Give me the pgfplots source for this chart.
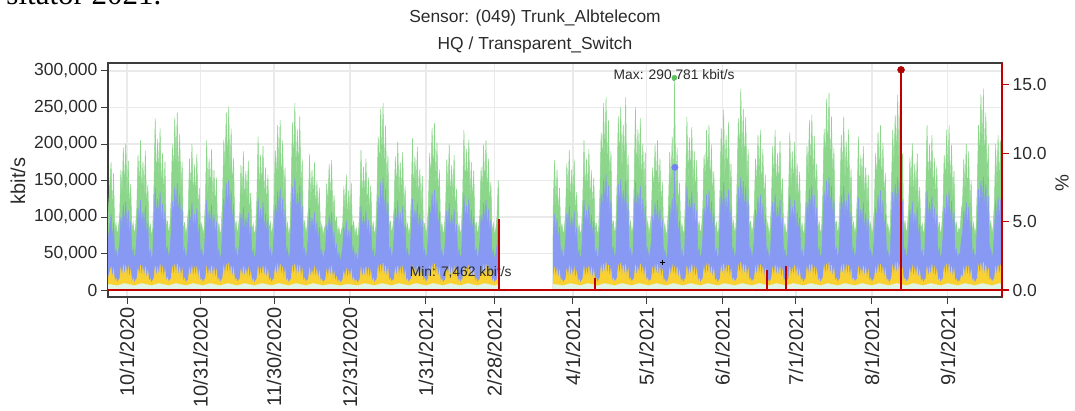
\documentclass[border=0pt]{standalone}
\usepackage{fontspec}
\setmainfont{Liberation Sans}
\newfontfamily\seriffont{Liberation Serif}
\usepackage{pgfplots}
\usepackage{pgfplotstable}
\pgfplotsset{compat=1.18}
\definecolor{gr}{HTML}{8CD68C}
\definecolor{grd}{HTML}{5DBF5D}
\definecolor{bl}{HTML}{8799F3}
\definecolor{ye}{HTML}{F9D232}
\definecolor{mi}{HTML}{E1F5E4}
\definecolor{rd}{HTML}{C00000}
\definecolor{rdd}{HTML}{B00000}
\definecolor{ax}{HTML}{3C3C3C}
\definecolor{gd}{HTML}{EAEAEA}
\definecolor{tx}{HTML}{2B2B2B}

\pgfplotstableread[row sep=\\]{
x g b y\\
-7.8 100 66 15\\ -6.5 175 104 31\\ -6 105 68 15\\ -5.5 160 92 28\\ -5 78 45 10\\ -4.5 92 56 16\\ -4 74 42 9\\ -3.5 86 52 14\\
-3 101 64 14\\ -2.5 165 100 30\\ -2 129 82 16\\ -1.5 195 117 33\\ -1 135 88 17\\ -0.5 201 121 34\\ 0 121 80 16\\ 0.5 177 109 31\\ 1 109 70 14\\ 1.5 145 94 27\\ 2 79 46 10\\ 2.5 93 57 16\\ 3 75 41 9\\ 3.5 87 51 14\\
4 113 74 15\\ 4.5 185 113 29\\ 5 135 88 17\\ 5.5 205 123 34\\ 6 123 82 16\\ 6.5 176 107 31\\ 7 127 84 16\\ 7.5 191 115 32\\ 8 107 70 13\\ 8.5 144 92 26\\ 9 77 44 10\\ 9.5 90 55 15\\ 10 73 40 9\\ 10.5 84 50 13\\
11 141 94 16\\ 11.5 235 141 33\\ 12 146 99 15\\ 12.5 207 125 30\\ 13 153 101 18\\ 13.5 221 134 35\\ 14 132 87 15\\ 14.5 188 118 31\\ 15 125 82 14\\ 15.5 176 108 28\\ 16 80 47 11\\ 16.5 95 58 17\\ 17 76 43 10\\ 17.5 88 53 14\\
18 122 78 15\\ 18.5 199 122 31\\ 19 156 100 17\\ 19.5 236 141 35\\ 20 163 107 18\\ 20.5 243 146 36\\ 21 146 97 16\\ 21.5 214 131 32\\ 22 131 85 14\\ 22.5 175 114 28\\ 23 78 46 10\\ 23.5 93 57 16\\ 24 74 41 9\\ 24.5 86 51 13\\
25 110 72 14\\ 25.5 180 110 29\\ 26 132 86 16\\ 26.5 200 120 32\\ 27 120 80 15\\ 27.5 172 104 30\\ 28 124 82 16\\ 28.5 186 112 31\\ 29 104 68 13\\ 29.5 140 90 26\\ 30 79 45 10\\ 30.5 91 56 15\\ 31 75 42 9\\ 31.5 85 50 14\\
32 123 82 15\\ 32.5 205 123 31\\ 33 127 86 15\\ 33.5 180 109 29\\ 34 133 88 17\\ 34.5 193 117 33\\ 35 115 76 15\\ 35.5 164 103 30\\ 36 109 72 13\\ 36.5 154 94 27\\ 37 77 44 10\\ 37.5 92 56 16\\ 38 73 40 9\\ 38.5 85 51 14\\
39 126 80 15\\ 39.5 206 126 32\\ 40 161 103 17\\ 40.5 243 146 35\\ 41 168 110 18\\ 41.5 251 151 37\\ 42 151 100 16\\ 42.5 221 136 33\\ 43 136 88 14\\ 43.5 181 118 29\\ 44 80 47 11\\ 44.5 95 58 16\\ 45 76 42 10\\ 45.5 87 52 14\\
46 105 68 14\\ 46.5 171 105 28\\ 47 125 82 16\\ 47.5 190 114 31\\ 48 114 76 15\\ 48.5 163 99 29\\ 49 118 78 15\\ 49.5 177 106 30\\ 50 99 65 13\\ 50.5 133 86 25\\ 51 78 45 10\\ 51.5 90 55 15\\ 52 74 41 9\\ 52.5 84 50 13\\
53 126 84 15\\ 53.5 210 126 31\\ 54 130 88 15\\ 54.5 185 111 29\\ 55 137 90 17\\ 55.5 197 120 33\\ 56 118 78 15\\ 56.5 168 105 30\\ 57 111 74 13\\ 57.5 158 97 27\\ 58 79 46 10\\ 58.5 93 57 16\\ 59 75 42 9\\ 59.5 86 51 14\\
60 117 75 15\\ 60.5 191 117 31\\ 61 149 96 17\\ 61.5 226 135 34\\ 62 156 103 18\\ 62.5 233 140 36\\ 63 140 93 16\\ 63.5 205 126 32\\ 64 126 82 14\\ 64.5 168 110 28\\ 65 78 45 10\\ 65.5 92 56 15\\ 66 74 41 9\\ 66.5 85 50 13\\
67 141 92 15\\ 67.5 230 141 32\\ 68 169 110 18\\ 68.5 256 154 36\\ 69 154 102 16\\ 69.5 220 133 33\\ 70 159 105 17\\ 70.5 238 143 34\\ 71 133 87 14\\ 71.5 179 115 28\\ 72 80 47 11\\ 72.5 94 57 16\\ 73 76 42 10\\ 73.5 87 52 14\\
74 112 74 14\\ 74.5 186 112 29\\ 75 115 78 14\\ 75.5 164 99 27\\ 76 121 80 16\\ 76.5 175 106 31\\ 77 104 69 14\\ 77.5 149 93 28\\ 78 99 65 13\\ 78.5 140 86 25\\ 79 77 44 10\\ 79.5 90 55 15\\ 80 73 40 9\\ 80.5 84 50 13\\
81 89 57 13\\ 81.5 146 89 27\\ 82 114 73 15\\ 82.5 173 103 30\\ 83 119 78 16\\ 83.5 178 107 31\\ 84 96 60 13\\ 84.5 130 80 24\\ 85 85 50 11\\ 85.5 100 62 18\\ 86 73 40 9\\ 86.5 86 52 14\\ 87 71 38 9\\ 87.5 82 48 12\\
88 87 57 13\\ 88.5 142 87 25\\ 89 104 68 14\\ 89.5 158 95 28\\ 90 95 63 13\\ 90.5 136 82 26\\ 91 98 65 14\\ 91.5 147 88 27\\ 92 78 46 10\\ 92.5 95 58 17\\ 93 72 40 9\\ 93.5 85 51 14\\ 94 70 38 9\\ 94.5 80 47 12\\
95 115 77 14\\ 95.5 192 115 30\\ 96 119 81 14\\ 96.5 169 102 28\\ 97 125 83 16\\ 97.5 180 109 32\\ 98 108 71 14\\ 98.5 154 96 29\\ 99 102 67 13\\ 99.5 144 88 26\\ 100 78 45 10\\ 100.5 92 56 16\\ 101 74 41 9\\ 101.5 85 51 13\\
102 128 82 15\\ 102.5 210 128 32\\ 103 164 105 17\\ 103.5 248 148 35\\ 104 172 113 18\\ 104.5 256 154 37\\ 105 154 102 16\\ 105.5 225 138 33\\ 106 138 90 14\\ 106.5 184 120 29\\ 107 80 47 11\\ 107.5 95 58 16\\ 108 76 42 10\\ 108.5 87 52 14\\
109 112 73 14\\ 109.5 183 112 29\\ 110 134 87 16\\ 110.5 203 122 33\\ 111 122 81 15\\ 111.5 175 106 30\\ 112 126 83 16\\ 112.5 189 114 31\\ 113 106 69 13\\ 113.5 142 91 26\\ 114 79 45 10\\ 114.5 91 56 15\\ 115 75 42 9\\ 115.5 85 50 14\\
116 125 83 15\\ 116.5 208 125 31\\ 117 129 87 15\\ 117.5 183 110 29\\ 118 135 89 17\\ 118.5 196 119 33\\ 119 116 77 15\\ 119.5 166 104 30\\ 120 110 73 13\\ 120.5 156 96 27\\ 121 77 44 10\\ 121.5 92 56 16\\ 122 73 40 9\\ 122.5 85 51 14\\
123 115 73 15\\ 123.5 188 115 31\\ 124 147 94 17\\ 124.5 222 133 34\\ 125 153 101 18\\ 125.5 229 137 36\\ 126 137 92 16\\ 126.5 202 124 32\\ 127 124 80 14\\ 127.5 165 108 28\\ 128 78 45 10\\ 128.5 92 56 15\\ 129 74 41 9\\ 129.5 85 50 13\\
130 109 72 14\\ 130.5 179 109 29\\ 131 131 86 16\\ 131.5 199 119 32\\ 132 119 80 15\\ 132.5 171 103 30\\ 133 123 82 16\\ 133.5 185 111 31\\ 134 103 68 13\\ 134.5 139 90 26\\ 135 79 45 10\\ 135.5 91 56 15\\ 136 75 42 9\\ 136.5 85 50 14\\
137 131 88 15\\ 137.5 219 131 32\\ 138 136 92 15\\ 138.5 193 116 29\\ 139 142 94 17\\ 139.5 206 125 34\\ 140 123 81 15\\ 140.5 175 110 30\\ 141 116 77 13\\ 141.5 164 101 27\\ 142 78 45 10\\ 142.5 93 57 16\\ 143 74 41 9\\ 143.5 86 51 14\\
144 103 66 14\\ 144.5 168 103 30\\ 145 131 84 16\\ 145.5 199 119 33\\ 146 137 90 17\\ 146.5 205 123 35\\ 147 123 82 16\\ 147.5 180 111 31\\ 148 111 72 14\\ 148.5 148 96 27\\ 149 77 44 10\\ 149.5 91 55 15\\ 150 73 40 9\\ 150.5 84 50 13\\
151 100 62 14\\ 151.5 150 95 28\\ 151.8 120 80 20\\
}\segA

\pgfplotstableread[row sep=\\]{
x g b y\\
173.9 110 72 15\\ 174.5 178 104 30\\ 175 112 74 15\\ 175.5 165 98 29\\ 176 100 66 13\\ 176.5 140 86 26\\ 177 78 45 10\\ 177.5 91 56 15\\ 178 74 41 9\\ 178.5 85 50 13\\
179 106 69 14\\ 179.5 173 106 28\\ 180 127 83 16\\ 180.5 192 115 32\\ 181 115 77 15\\ 181.5 165 100 29\\ 182 119 79 15\\ 182.5 179 108 30\\ 183 100 65 13\\ 183.5 134 86 25\\ 184 78 45 10\\ 184.5 90 55 15\\ 185 74 41 9\\ 185.5 84 50 13\\
186 123 82 15\\ 186.5 205 123 31\\ 187 127 86 15\\ 187.5 180 109 29\\ 188 133 88 17\\ 188.5 193 117 33\\ 189 115 76 15\\ 189.5 164 103 30\\ 190 109 72 13\\ 190.5 154 94 27\\ 191 77 44 10\\ 191.5 92 56 16\\ 192 73 40 9\\ 192.5 85 51 14\\
193 132 84 16\\ 193.5 216 132 33\\ 194 169 108 18\\ 194.5 256 153 36\\ 195 177 116 19\\ 195.5 264 158 38\\ 196 158 106 17\\ 196.5 232 143 34\\ 197 143 92 14\\ 197.5 190 124 29\\ 198 80 47 11\\ 198.5 95 58 16\\ 199 76 42 10\\ 199.5 87 52 14\\
200 145 95 16\\ 200.5 238 145 33\\ 201 174 114 18\\ 201.5 250 152 37\\ 202 158 106 17\\ 202.5 227 137 34\\ 203 164 108 17\\ 203.5 264 150 35\\ 204 137 90 14\\ 204.5 185 119 29\\ 205 80 47 11\\ 205.5 94 57 16\\ 206 76 42 10\\ 206.5 87 52 14\\
207 150 100 16\\ 207.5 250 148 34\\ 208 155 105 16\\ 208.5 220 133 31\\ 209 163 108 18\\ 209.5 235 143 36\\ 210 140 93 16\\ 210.5 200 125 32\\ 211 133 88 14\\ 211.5 188 115 29\\ 212 80 47 11\\ 212.5 94 57 16\\ 213 76 42 10\\ 213.5 87 52 14\\
214 103 66 14\\ 214.5 168 103 30\\ 215 131 84 16\\ 215.5 199 119 33\\ 216 137 90 17\\ 216.5 205 123 35\\ 217 123 82 16\\ 217.5 180 111 31\\ 218 111 72 14\\ 218.5 148 96 27\\ 219 77 44 10\\ 219.5 91 55 15\\ 220 73 40 9\\ 220.5 84 50 13\\
221 116 76 15\\ 221.5 189 116 29\\ 222 139 90 17\\ 222.5 210 126 33\\ 223 126 84 16\\ 223.4 290.781 168 31\\ 224 130 86 16\\ 224.5 195 118 32\\ 225 109 71 13\\ 225.5 147 95 26\\ 226 78 45 10\\ 226.5 91 56 15\\ 227 74 41 9\\ 227.5 85 50 14\\
228 142 95 16\\ 228.5 237 142 33\\ 229 147 100 15\\ 229.5 209 126 30\\ 230 154 102 18\\ 230.5 223 135 35\\ 231 133 88 15\\ 231.5 190 119 31\\ 232 126 83 14\\ 232.5 178 109 28\\ 233 79 46 10\\ 233.5 93 57 16\\ 234 75 42 9\\ 234.5 86 51 14\\
235 113 72 15\\ 235.5 185 113 31\\ 236 145 93 17\\ 236.5 219 131 34\\ 237 151 99 18\\ 237.5 226 136 36\\ 238 136 90 16\\ 238.5 199 122 32\\ 239 122 79 14\\ 239.5 163 106 28\\ 240 78 45 10\\ 240.5 92 56 15\\ 241 74 41 9\\ 241.5 85 50 13\\
242 136 89 15\\ 242.5 222 136 32\\ 243 163 106 18\\ 243.5 247 148 36\\ 244 148 99 16\\ 244.5 212 128 33\\ 245 153 101 17\\ 245.5 230 138 34\\ 246 128 84 14\\ 246.5 173 111 28\\ 247 80 47 11\\ 247.5 94 57 16\\ 248 76 42 10\\ 248.5 87 52 14\\
249 152 99 16\\ 249.5 235 141 33\\ 250 182 112 19\\ 250.5 276 155 38\\ 251 171 110 17\\ 251.5 248 149 35\\ 252 166 105 17\\ 252.5 237 142 34\\ 253 144 94 14\\ 253.5 193 124 29\\ 254 80 47 11\\ 254.5 95 58 16\\ 255 76 42 10\\ 255.5 87 52 14\\
256 110 70 15\\ 256.5 180 110 31\\ 257 140 90 17\\ 257.5 212 127 34\\ 258 147 96 18\\ 258.5 219 131 35\\ 259 131 88 16\\ 259.5 193 118 32\\ 260 118 77 14\\ 260.5 158 103 28\\ 261 78 45 10\\ 261.5 92 56 15\\ 262 74 41 9\\ 262.5 85 50 13\\
263 120 79 15\\ 263.5 197 120 30\\ 264 145 94 17\\ 264.5 219 131 34\\ 265 131 88 16\\ 265.5 188 114 31\\ 266 136 90 16\\ 266.5 204 123 32\\ 267 114 74 13\\ 267.5 153 99 27\\ 268 78 45 10\\ 268.5 91 56 15\\ 269 74 41 9\\ 269.5 85 50 14\\
270 130 86 15\\ 270.5 216 130 32\\ 271 134 91 15\\ 271.5 190 114 29\\ 272 140 93 17\\ 272.5 203 123 34\\ 273 121 80 15\\ 273.5 173 108 30\\ 274 114 76 13\\ 274.5 162 99 27\\ 275 78 45 10\\ 275.5 92 56 16\\ 276 74 41 9\\ 276.5 85 51 14\\
277 120 77 15\\ 277.5 197 120 31\\ 278 154 98 17\\ 278.5 233 139 35\\ 279 161 106 18\\ 279.5 240 144 36\\ 280 144 96 16\\ 280.5 211 130 32\\ 281 130 84 14\\ 281.5 173 113 28\\ 282 79 46 10\\ 282.5 93 57 16\\ 283 75 42 9\\ 283.5 86 51 14\\
284 135 86 16\\ 284.5 221 135 33\\ 285 173 108 18\\ 285.5 262 150 36\\ 286 181 112 19\\ 286.5 270 155 38\\ 287 162 106 17\\ 287.5 238 142 34\\ 288 146 95 14\\ 288.5 194 124 29\\ 289 80 47 11\\ 289.5 95 58 16\\ 290 76 42 10\\ 290.5 87 52 14\\
291 130 85 15\\ 291.5 213 130 32\\ 292 156 102 18\\ 292.5 237 142 35\\ 293 142 95 16\\ 293.5 204 123 33\\ 294 147 97 17\\ 294.5 220 133 34\\ 295 123 81 14\\ 295.5 166 107 28\\ 296 80 47 11\\ 296.5 93 57 16\\ 297 76 42 10\\ 297.5 86 52 14\\
298 126 84 15\\ 298.5 210 126 31\\ 299 130 88 15\\ 299.5 185 111 29\\ 300 137 90 17\\ 300.5 197 120 33\\ 301 118 78 15\\ 301.5 168 105 30\\ 302 111 74 13\\ 302.5 158 97 27\\ 303 78 45 10\\ 303.5 92 56 16\\ 304 74 41 9\\ 304.5 85 51 14\\
305 113 72 15\\ 305.5 188 114 30\\ 306 145 93 17\\ 306.5 216 130 34\\ 307 151 99 18\\ 307.5 226 136 35\\ 308 136 90 16\\ 308.5 202 123 32\\ 309 122 79 14\\ 309.5 160 104 28\\ 310 79 46 10\\ 310.5 91 55 15\\ 311 75 41 9\\ 311.5 86 50 13\\
312 147 95 16\\ 312.5 219 134 33\\ 313 166 106 18\\ 313.5 240 145 35\\ 314 179 112 19\\ 314.5 267 155 38\\ 315 174 110 18\\ 315.5 259 150 36\\ 316 144 92 14\\ 316.5 187 122 29\\ 317 80 47 11\\ 317.5 95 58 16\\ 318 76 42 10\\ 318.5 87 52 14\\
319 111 72 14\\ 319.5 181 111 29\\ 320 133 86 16\\ 320.5 201 121 32\\ 321 121 80 15\\ 321.5 173 105 30\\ 322 125 82 16\\ 322.5 187 113 31\\ 323 105 68 13\\ 323.5 141 90 26\\ 324 79 45 10\\ 324.5 91 56 15\\ 325 75 42 9\\ 325.5 85 50 14\\
326 136 90 15\\ 326.5 226 136 32\\ 327 140 95 15\\ 327.5 199 120 30\\ 328 147 97 17\\ 328.5 212 129 35\\ 329 127 84 15\\ 329.5 181 113 31\\ 330 120 79 14\\ 330.5 170 104 28\\ 331 78 45 10\\ 331.5 93 57 16\\ 332 74 41 9\\ 332.5 86 51 14\\
333 113 72 15\\ 333.5 185 113 31\\ 334 145 93 17\\ 334.5 219 131 34\\ 335 151 99 18\\ 335.5 226 136 36\\ 336 136 90 16\\ 336.5 199 122 32\\ 337 122 79 14\\ 337.5 163 106 28\\ 338 78 45 10\\ 338.5 92 56 15\\ 339 74 41 9\\ 339.5 85 50 13\\
340 80 48 11\\ 340.5 110 70 20\\ 341 120 78 15\\ 341.5 180 108 30\\ 342 130 86 16\\ 342.5 200 120 33\\ 343 125 82 16\\ 343.5 190 114 31\\ 344 108 70 14\\ 344.5 150 95 27\\ 345 78 45 10\\ 345.5 92 56 15\\ 346 74 41 9\\ 346.5 85 50 13\\
347 138 88 16\\ 347.5 226 138 33\\ 348 177 110 18\\ 348.5 268 150 37\\ 349 185 115 19\\ 349.5 276 155 38\\ 350 166 108 17\\ 350.5 243 145 34\\ 351 149 96 15\\ 351.5 199 128 30\\ 352 80 47 11\\ 352.5 95 58 16\\ 353 76 42 10\\ 353.5 87 52 14\\
354 120 78 15\\ 354.5 200 122 31\\ 355 140 90 17\\ 355.5 212 128 34\\ 356 142 92 17\\ 356.5 205 124 33\\ 357 130 84 16\\ 357.5 190 115 30\\
}\segB

\begin{document}
\begin{tikzpicture}[x=1pt,y=1pt]
\path[use as bounding box] (0,0) rectangle (1075,410);
\node[anchor=base east, font=\seriffont\fontsize{31}{31}\selectfont] at (165,405) {sitator 2021.};
\node[font=\fontsize{17.4}{20}\selectfont, text=tx] at (535,392) {Sensor: (049) Trunk\_Albtelecom};
\node[font=\fontsize{17.4}{20}\selectfont, text=tx] at (535,365) {HQ / Transparent\_Switch};
\node[rotate=90, font=\fontsize{20}{22}\selectfont, text=tx] at (18,229) {kbit/s};
\node[rotate=90, font=\fontsize{19}{21}\selectfont, text=tx] at (1062,227) {\%};

\begin{axis}[
  at={(108pt,113pt)}, anchor=south west,
  width=894pt, height=234pt, scale only axis,
  xmin=-7.76, xmax=357.1, ymin=-9.59, ymax=310.96,
  axis line style={draw=ax, line width=1.2pt},
  tick align=outside, major tick length=7pt,
  xtick pos=bottom, ytick pos=left,
  tick style={draw=ax, line width=1pt},
  grid=major, major grid style={draw=gd, line width=1.2pt},
  xtick={0,30,60,91,122,150,182,212,243,273,304,335},
  xticklabels={10/1/2020,10/31/2020,11/30/2020,12/31/2020,1/31/2021,2/28/2021,4/1/2021,5/1/2021,6/1/2021,7/1/2021,8/1/2021,9/1/2021},
  x tick label style={rotate=90, anchor=east, font=\fontsize{20}{22}\selectfont, text=tx},
  ytick={0,50,100,150,200,250,300},
  yticklabels={0,{50,000},{100,000},{150,000},{200,000},{250,000},{300,000}},
  y tick label style={font=\fontsize{17.5}{20}\selectfont, text=tx},
  /pgf/number format/assume math mode=true,
]
\addplot[fill=gr, draw=gr, line width=0.5pt] table[x=x,y=g]{\segA} \closedcycle;
\addplot[fill=gr, draw=gr, line width=0.5pt] table[x=x,y=g]{\segB} \closedcycle;
\addplot[fill=bl, draw=bl, line width=0.5pt] table[x=x,y=b]{\segA} \closedcycle;
\addplot[fill=bl, draw=bl, line width=0.5pt] table[x=x,y=b]{\segB} \closedcycle;
\addplot[fill=ye, draw=ye, line width=0.5pt] table[x=x,y=y]{\segA} \closedcycle;
\addplot[fill=ye, draw=ye, line width=0.5pt] table[x=x,y=y]{\segB} \closedcycle;
\addplot[fill=mi, draw=mi, line width=0.3pt] coordinates {(-7.8,8) (-4,6) (-1,9) (3,6) (6,9) (10,6) (13,9) (17,6) (20,9) (24,6) (27,9) (31,6) (34,9) (38,6) (41,9) (45,6) (48,9) (52,6) (55,9) (59,6) (62,9) (66,6) (69,9) (73,6) (76,9) (80,6) (83,8) (87,6) (90,8) (94,6) (97,9) (101,6) (104,9) (108,6) (111,9) (115,6) (118,9) (122,6) (125,9) (129,6) (132,9) (136,6) (139,9) (143,6) (146,9) (150,6) (151.8,8)} \closedcycle;
\addplot[fill=mi, draw=mi, line width=0.3pt] coordinates {(173.9,8) (178,6) (181,9) (185,6) (188,9) (192,6) (195,9) (199,6) (202,9) (206,6) (209,9) (213,6) (216,9) (220,6) (223,9) (227,6) (230,9) (234,6) (237,9) (241,6) (244,9) (248,6) (251,9) (255,6) (258,9) (262,6) (265,9) (269,6) (272,9) (276,6) (279,9) (283,6) (286,9) (290,6) (293,9) (297,6) (300,9) (304,6) (307,9) (311,6) (314,9) (318,6) (321,9) (325,6) (328,9) (332,6) (335,9) (339,6) (342,9) (346,6) (349,9) (353,6) (356,9) (357.5,8)} \closedcycle;
\addplot[only marks, mark=*, mark size=2.6pt, grd] coordinates {(223.4,290.781)};
\addplot[only marks, mark=*, mark size=3.2pt, bl!85!blue] coordinates {(223.6,168)};
\addplot[only marks, mark=+, mark size=2.5pt, black, line width=0.8pt] coordinates {(218.6,38)};
\node[font=\fontsize{13.8}{15}\selectfont, text=tx] at (axis cs:223.3,294.5) {Max: 290,781 kbit/s};
\node[font=\fontsize{13.8}{15}\selectfont, text=tx] at (axis cs:136.2,24.7) {Min: 7,462 kbit/s};
\end{axis}

\begin{axis}[
  at={(108pt,113pt)}, anchor=south west,
  width=894pt, height=234pt, scale only axis,
  xmin=-7.76, xmax=357.1, ymin=-0.512, ymax=16.6,
  axis x line=none, axis y line*=right,
  y axis line style={draw=rd, line width=1.3pt},
  tick align=outside, major tick length=7pt,
  ytick={0,5,10,15}, yticklabels={0.0,5.0,10.0,15.0},
  ytick style={draw=rd, line width=1.1pt},
  y tick label style={font=\fontsize{17.5}{20}\selectfont, text=tx},
  /pgf/number format/assume math mode=true,
]
\addplot[rd, line width=1.2pt, mark=none] coordinates {(-8,0) (151.65,0) (151.65,5.12) (151.95,5.12) (151.95,0) (190.85,0) (190.85,0.85) (191.15,0.85) (191.15,0) (260.85,0) (260.85,1.45) (261.15,1.45) (261.15,0) (268.75,0) (268.75,1.7) (269.05,1.7) (269.05,0) (315.8,0) (315.8,16.1) (316.0,16.1) (316.0,0) (358,0)};
\addplot[only marks, mark=*, mark size=3.5pt, rdd] coordinates {(315.9,16.1)};
\end{axis}
\end{tikzpicture}
\end{document}
